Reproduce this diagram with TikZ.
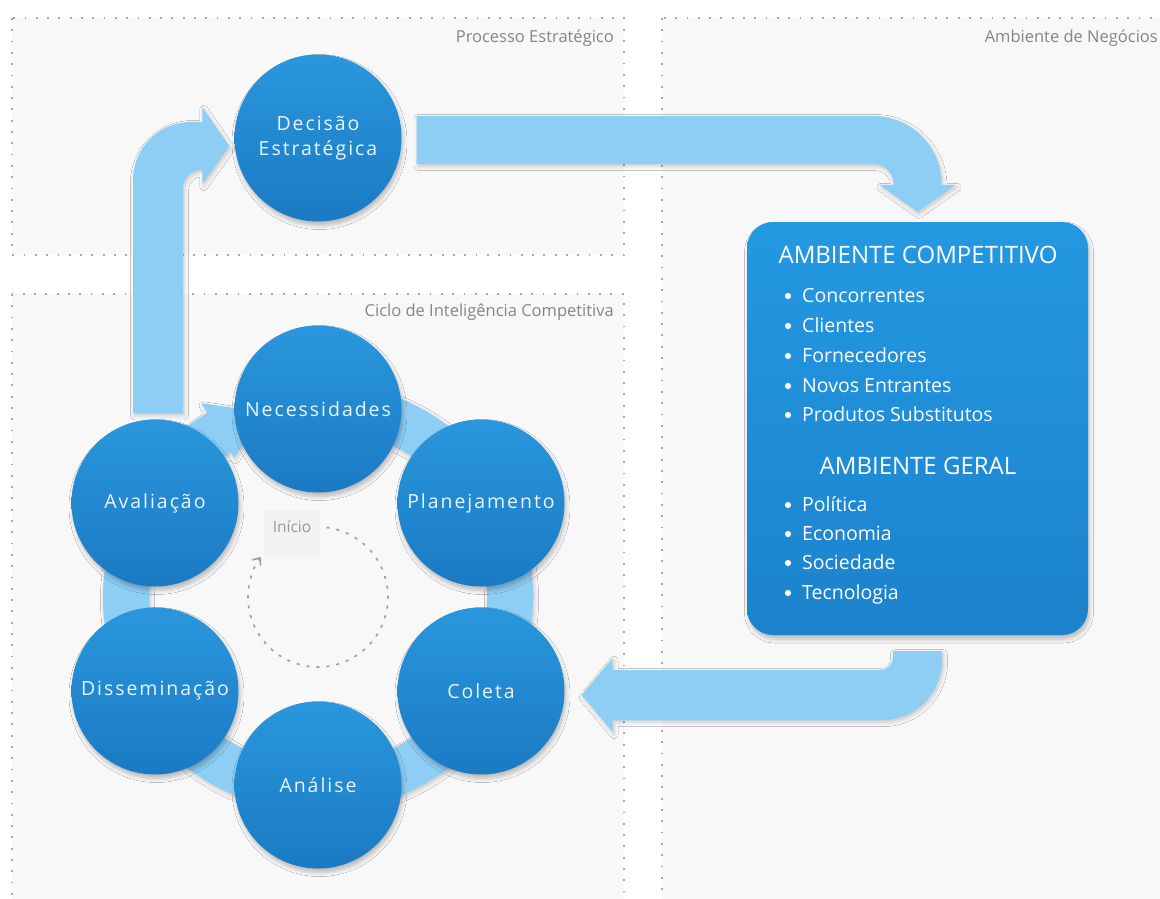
\documentclass[tikz,border=0pt]{standalone}
\usepackage{fontspec}
\setmainfont{Open Sans}
\newfontfamily\stagefont{Open Sans}[LetterSpace=10]
\usetikzlibrary{calc,arrows.meta,shadows.blur}

\definecolor{panelbg}{HTML}{F8F8F8}
\definecolor{dotcol}{HTML}{A8A8A8}
\definecolor{labelgray}{HTML}{858585}
\definecolor{bandblue}{HTML}{8ECEF5}
\definecolor{circtop}{HTML}{2A97DD}
\definecolor{circbot}{HTML}{1A7AC3}
\definecolor{boxtop}{HTML}{2399E2}
\definecolor{boxbot}{HTML}{1C82CC}
\definecolor{stagetext}{HTML}{EAF5FC}
\definecolor{startbox}{HTML}{F2F2F2}

\begin{document}
\begin{tikzpicture}[x=1pt,y=1pt,
  panel/.style={fill=panelbg},
  panelrim/.style={draw=dotcol, line width=1.3pt, dash pattern=on 1.8pt off 9.5pt},
  panellabel/.style={anchor=east, text=labelgray, inner sep=0pt,
    font=\fontsize{16.5}{20}\selectfont},
  softshadow/.style={blur shadow={shadow xshift=1.5pt, shadow yshift=-4pt,
    shadow blur radius=4pt, shadow opacity=25}},
  stage/.style={circle, minimum size=167pt, inner sep=0pt,
    top color=circtop, bottom color=circbot, text=stagetext, align=center,
    font=\stagefont\fontsize{19.5}{25}\selectfont, softshadow},
  band/.style={fill=bandblue, blur shadow={shadow xshift=1.5pt, shadow yshift=-2.5pt,
    shadow blur radius=4pt, shadow opacity=20}},
  envbox/.style={rectangle, rounded corners=26pt, minimum width=341pt,
    minimum height=413pt, top color=boxtop, bottom color=boxbot, softshadow},
  boxhead/.style={anchor=base, text=white, inner sep=0pt,
    font=\fontsize{24}{28}\selectfont},
  boxitem/.style={anchor=base west, text=white, inner sep=0pt,
    font=\fontsize{19.5}{24}\selectfont},
  startlabel/.style={text=labelgray!85, inner sep=0pt, font=\fontsize{15.5}{18}\selectfont},
  startloop/.style={draw=labelgray!80, line width=1.6pt, dash pattern=on 3pt off 7pt,
    -{Straight Barb[length=6pt,width=10pt]}}
]
\useasboundingbox (0,0) rectangle (1160,-898);
\fill[white] (0,0) rectangle (1160,-898);
\clip (0,0) rectangle (1160,-898);

% panels
\fill[panel] (12,-18) rectangle (624,-255);
\fill[panel] (12,-294) rectangle (624,-920);
\fill[panel] (662,-18) rectangle (1180,-920);
\draw[panelrim] (12,-18) rectangle (624,-255);
\draw[panelrim] (12,-294) rectangle (624,-920);
\draw[panelrim] (662,-18) rectangle (1180,-920);

\node[panellabel] (lproc) at (614,-38) {Processo Estratégico};
\node[panellabel] (lamb) at (1158,-38) {Ambiente de Negócios};
\node[panellabel] (lciclo) at (614,-312) {Ciclo de Inteligência Competitiva};

% centre of the intelligence cycle
\coordinate (hub) at (318,-597);

% ring joining the six stages, ending in a head at "Necessidades"
\fill[band] ($(hub)+(98:169)$) arc[start angle=98, end angle=-239, radius=169]
  -- ($(hub)+(121:163)$) -- ($(hub)+(106:192)$) -- ($(hub)+(121:226)$)
  -- ($(hub)+(121:215)$) arc[start angle=121, end angle=458, radius=215] -- cycle;

% start marker
\fill[startbox] (264,-510) rectangle (320,-556);
\node[startlabel] (ini) at (292,-527) {Início};
\draw[startloop] ($(hub)+(83:70)$) arc[start angle=83, end angle=-215, radius=70];

% stages
\node[stage] (dec) at (318,-138) {Decisão\\Estratégica};
\node[stage] (nec) at (318,-409) {Necessidades};
\node[stage] (pla) at (481,-503) {Planejamento};
\node[stage] (col) at (481,-691) {Coleta};
\node[stage] (ana) at (318,-785) {Análise};
\node[stage] (dis) at (155,-691) {Disseminação};
\node[stage] (ava) at (155,-503) {Avaliação};

% business environment box
\node[envbox] (amb) at (917.5,-428.5) {};

% band arrows
\coordinate (a1s) at ($(ava.north)+(3,6)$);
\coordinate (a1t) at ($(dec.west)+(-5,-8)$);
\fill[band] let \p1=(a1s), \p2=(a1t) in
  (\x1-25,\y1) -- (\x1-25,\y2+24-58) arc[start angle=180, end angle=90, radius=58]
  -- (\x2-27,\y2+24) -- (\x2-27,\y2+39) -- (\p2) -- (\x2-27,\y2-38)
  -- (\x2-27,\y2-24) -- (\x1+43,\y2-24) arc[start angle=90, end angle=180, radius=18]
  -- (\x1+25,\y1) -- cycle;

\coordinate (a2s) at ($(dec.east)+(15,-2)$);
\coordinate (a2t) at ($(amb.north)+(0,10)$);
\fill[band] let \p1=(a2s), \p2=(a2t) in
  (\x1,\y1+24) -- (\x2-44,\y1+24) arc[start angle=90, end angle=0, radius=68]
  -- (\x2+24,\y2+27) -- (\x2+38,\y2+27) -- (\p2) -- (\x2-38,\y2+27)
  -- (\x2-24,\y2+27) -- (\x2-24,\y1-44) arc[start angle=0, end angle=90, radius=20]
  -- (\x1,\y1-24) -- cycle;

\coordinate (a3s) at ($(amb.south)+(0,-16)$);
\coordinate (a3t) at ($(col.east)+(17,-4)$);
\fill[band] let \p1=(a3s), \p2=(a3t) in
  (\x1+24.5,\y1) -- (\x1+24.5,\y2+35) arc[start angle=0, end angle=-90, radius=60]
  -- (\x2+31,\y2-25) -- (\x2+31,\y2-37) -- (\p2) -- (\x2+31,\y2+37)
  -- (\x2+31,\y2+25) -- (\x1-37.5,\y2+25) arc[start angle=-90, end angle=0, radius=13]
  -- (\x1-24.5,\y1) -- cycle;

% box contents
\node[boxhead] (hcomp) at (918,-263.5) {AMBIENTE COMPETITIVO};
\node[boxitem] (c1) at (802,-302.5) {Concorrentes};
\node[boxitem] (c2) at (802,-332.5) {Clientes};
\node[boxitem] (c3) at (802,-362.5) {Fornecedores};
\node[boxitem] (c4) at (802,-392.5) {Novos Entrantes};
\node[boxitem] (c5) at (802,-421.5) {Produtos Substitutos};
\node[boxhead] (hger) at (918,-474.5) {AMBIENTE GERAL};
\node[boxitem] (g1) at (802,-511.5) {Política};
\node[boxitem] (g2) at (802,-540.5) {Economia};
\node[boxitem] (g3) at (802,-569.5) {Sociedade};
\node[boxitem] (g4) at (802,-599.5) {Tecnologia};
\foreach \item in {c1,c2,c3,c4,c5,g1,g2,g3,g4}
  \fill[white] ($(\item.base west)+(-14,6.5)$) circle (3.1);
\end{tikzpicture}
\end{document}
